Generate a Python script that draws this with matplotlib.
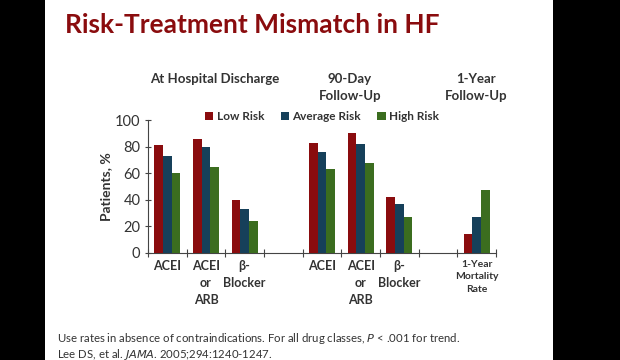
import numpy as np
import matplotlib
matplotlib.use('Agg')
from matplotlib import pyplot as plt
from matplotlib.patches import Rectangle

# chart data
categories = ['ACEI', 'ACEI\nor\nARB', 'β-\nBlocker',
              'ACEI', 'ACEI\nor\nARB', 'β-\nBlocker',
              '1-Year\nMortality\nRate']
slots = [0, 1, 2, 4, 5, 6, 8]
series = ['Low Risk', 'Average Risk', 'High Risk']
low_risk = [81, 86, 40, 83, 90, 42, 14]
average_risk = [73, 80, 33, 76, 82, 37, 27]
high_risk = [60, 65, 24, 63, 68, 27, 47]
y_ticks = [0, 20, 40, 60, 80, 100]

group_titles = ['At Hospital Discharge', '90-Day\nFollow-Up', '1-Year\nFollow-Up']
title = 'Risk-Treatment Mismatch in HF'
notes = ['Use rates in absence of contraindications. For all drug classes, $\\it{P}$ < .001 for trend.',
         'Lee DS, et al. $\\it{JAMA}$. 2005;294:1240-1247.']

colors = ['#8a0c0e', '#16405a', '#3b6d1f']
text_col = '#333333'

plt.rcParams['font.family'] = ['Lato', 'DejaVu Sans']

fig = plt.figure(figsize=(6.2, 3.6), dpi=100)
fig.patch.set_facecolor('black')
# white slide area between the black side bars
fig.add_artist(Rectangle((45 / 620, 0), (553 - 45) / 620, 1, transform=fig.transFigure,
                         facecolor='white', edgecolor='none', zorder=-10))

ax = fig.add_axes([148 / 620, 1 - 253 / 360, (496 - 148) / 620, (253 - 120) / 360])
ax.set_facecolor('none')
ax.set_zorder(2)

w = 0.225
x = np.array(slots, dtype=float)
for i, (vals, lab) in enumerate(zip([low_risk, average_risk, high_risk], series)):
    ax.bar(x + (i - 1) * w, vals, width=w, color=colors[i], label=lab, zorder=3)

ax.set_xlim(-0.5, 8.5)
ax.set_ylim(0, 100)
ax.set_yticks(y_ticks)
ax.tick_params(axis='y', labelsize=10.5, colors='#444444', direction='inout', length=5,
               labelcolor=text_col, pad=3)
ax.set_xticks(np.arange(-0.5, 9, 1))
ax.set_xticklabels([])
ax.tick_params(axis='x', which='major', direction='inout', length=6, color='#444444')
ax.set_xticks(x, minor=True)
ax.set_xticklabels(categories, minor=True)
ax.tick_params(axis='x', which='minor', length=0, pad=5, labelsize=9)
for t in ax.get_xticklabels(minor=True):
    t.set_fontweight('bold')
    t.set_color(text_col)
    t.set_linespacing(1.5)
    if 'Mortality' in t.get_text():
        t.set_fontsize(7.5)

for s in ['top', 'right']:
    ax.spines[s].set_visible(False)
for s in ['left', 'bottom']:
    ax.spines[s].set_color('#444444')

ax.set_ylabel('Patients, %', fontsize=10, fontweight='bold', color=text_col, labelpad=2)

ax.legend(loc='lower center', bbox_to_anchor=(0.5, 0.95), ncol=3, frameon=False,
          fontsize=8.5, handlelength=0.7, handleheight=0.7, handletextpad=0.3,
          columnspacing=1.4, borderaxespad=0)
for t in ax.get_legend().get_texts():
    t.set_fontweight('bold')
    t.set_color(text_col)

fig.text(65 / 620, 1 - 25 / 360, title, fontsize=19, fontweight='bold', color='#8a0c0e',
         va='center', ha='left')

for gx, gt in zip([215, 350, 476], group_titles):
    fig.text(gx / 620, 1 - 73 / 360, gt, fontsize=9.5, fontweight='bold', color=text_col,
             ha='center', va='top', linespacing=1.45)

for k, n in enumerate(notes):
    fig.text(57 / 620, 1 - (338 + 16 * k) / 360, n, fontsize=8.2, color=text_col,
             ha='left', va='center')

fig.savefig('out.png', dpi=100, facecolor=fig.get_facecolor())
